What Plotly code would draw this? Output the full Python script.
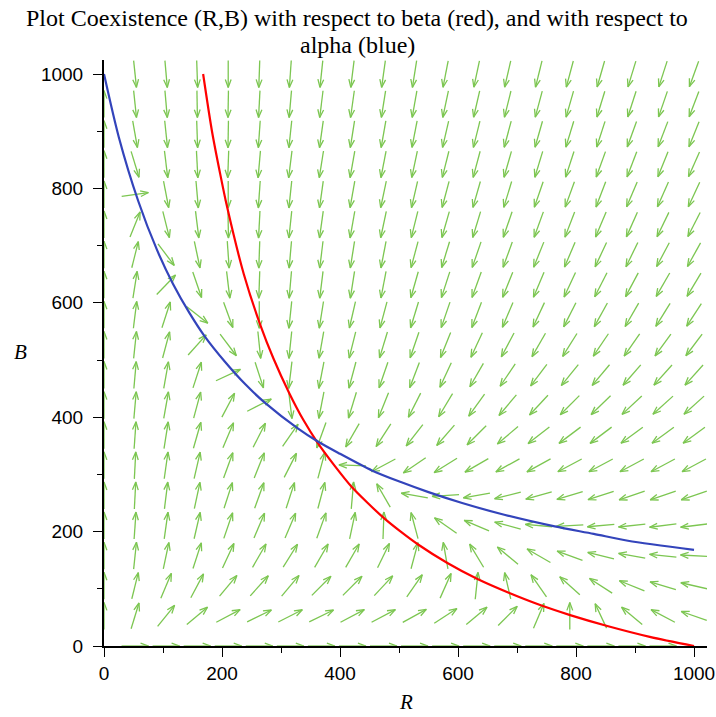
import numpy as np
import plotly.graph_objects as go

# ---------------- data ----------------
# red curve (coexistence w.r.t. beta)
red_R = [168, 183, 197, 209, 237, 265, 287, 314, 338, 361, 391, 420, 447, 474,
         504, 533, 582, 633, 686, 738, 790, 853, 925, 1000]
red_B = [1000, 900, 825, 766, 650, 561, 503, 442, 395, 357, 315, 278, 250, 224,
         199, 177, 145, 117, 93, 72, 54, 35, 16, 0]

# blue curve (coexistence w.r.t. alpha)
blue_R = [0, 25, 58, 90, 117, 145, 171, 205, 240, 273, 329, 363, 400, 454, 502,
          550, 607, 680, 764, 830, 888, 1000]
blue_B = [1000, 890, 778, 692, 633, 582, 541, 497, 457, 425, 380, 357, 336, 307,
          287, 269, 250, 229, 209, 196, 184, 168]

# direction field: 20 x 20 grid over [0,1000]^2, arrow directions in degrees
# (counter-clockwise from +R), rows from B=1000 (top) down to B=0; None = no arrow
field_n = 20
field_angles = [
    [None, 276, 275, 272, 270, 268, 266, 264, 263, 262, 261, 259, 258, 257, 256, 255, 254, 253, 252, 250],
    [90, 276, 275, 271, 269, 267, 265, 263, 262, 261, 260, 258, 257, 256, 255, 254, 253, 252, 251, 249],
    [90, 280, 276, 272, 269, 266, 264, 262, 261, 260, 259, 257, 256, 255, 254, 253, 252, 250, 249, 248],
    [90, 287, 277, 273, 268, 265, 263, 261, 260, 259, 258, 256, 255, 254, 253, 252, 250, 249, 248, 246],
    [90, 8, 281, 275, 270, 266, 264, 262, 260, 258, 257, 255, 254, 253, 251, 250, 249, 247, 246, 245],
    [90, 68, 284, 277, 271, 267, 264, 262, 260, 258, 256, 254, 253, 251, 250, 249, 247, 246, 244, 243],
    [90, 76, 307, 282, 274, 268, 265, 263, 261, 259, 255, 253, 251, 250, 248, 247, 245, 244, 242, 241],
    [90, 81, 46, 289, 277, 268, 265, 263, 261, 259, 254, 252, 250, 248, 247, 245, 243, 242, 240, 239],
    [90, 83, 72, 322, 290, 270, 264, 261, 257, 255, 253, 251, 249, 247, 245, 243, 241, 240, 238, 237],
    [90, 84, 75, 48, 307, 276, 264, 260, 256, 253, 251, 248, 245, 242, 240, 238, 236, 235, 234, 233],
    [90, 85, 80, 72, 25, 288, 263, 259, 255, 251, 249, 245, 240, 236, 233, 231, 230, 229, 228, 228],
    [90, 85, 80, 75, 62, 27, 277, 259, 253, 248, 243, 239, 234, 230, 227, 225, 224, 223, 222, 222],
    [90, 86, 81, 74, 67, 63, 55, 250, 240, 237, 232, 229, 225, 220, 218, 217, 217, 216, 216, 216],
    [90, 87, 82, 77, 70, 68, 63, 75, 178, 208, 214, 212, 210, 209, 209, 208, 208, 208, 208, 208],
    [90, 87, 83, 78, 72, 70, 72, 75, 85, 120, 170, 184, 190, 194, 196, 197, 198, 199, 199, 199],
    [90, 86, 82, 77, 71, 67, 67, 70, 78, 88, 105, 145, 157, 165, 175, 183, 185, 186, 187, 187],
    [90, 84, 78, 72, 65, 60, 58, 60, 60, 64, 75, 100, 121, 140, 150, 160, 166, 170, 174, 177],
    [90, 76, 67, 62, 50, 48, 50, 45, 45, 47, 55, 66, 84, 103, 125, 138, 147, 158, 163, 167],
    [90, 73, 51, 40, 28, 26, 27, 26, 28, 28, 29, 33, 40, 45, 67, 90, 115, 140, 152, 161],
    [None, 0, 0, 0, 0, 0, 0, 0, 0, 0, 0, 0, 0, 0, 0, 0, 0, 0, 0, None],
]

tick_vals = [0, 200, 400, 600, 800, 1000]
tick_text = ["0", "200", "400", "600", "800", "1000"]

title_line1 = "Plot Coexistence (R,B) with respect to beta (red), and with respect to"
title_line2 = "alpha (blue)"

# ---------------- layout geometry ----------------
FIG_W, FIG_H = 716, 717
M_L, M_R, M_T, M_B = 104, FIG_W - 707, 60, FIG_H - 646
X_MAX, Y_MAX = 1022, 1024.5
plot_w = FIG_W - M_L - M_R
plot_h = FIG_H - M_T - M_B
pxx = plot_w / X_MAX
pxy = plot_h / Y_MAX


def px_to_paper_x(px):
    return (px - M_L) / plot_w


def px_to_paper_y(py):
    return (FIG_H - M_B - py) / plot_h


ARROW_LEN = 27.0   # px
HEAD_LEN = 8.5     # px
HEAD_ANG = 20.0    # deg

grid = np.linspace(0, 1000, field_n)
ax, ay = [], []
for r, row in enumerate(field_angles):
    Bv = grid[field_n - 1 - r]
    for i, ang in enumerate(row):
        if ang is None:
            continue
        Rv = grid[i]
        a = np.radians(ang)
        dx, dy = np.cos(a) / pxx, np.sin(a) / pxy
        half = ARROW_LEN / 2
        tail = (Rv - half * dx, Bv - half * dy)
        tip = (Rv + half * dx, Bv + half * dy)
        ax += [tail[0], tip[0], None]
        ay += [tail[1], tip[1], None]
        b1 = a + np.pi - np.radians(HEAD_ANG)
        b2 = a + np.pi + np.radians(HEAD_ANG)
        ax += [tip[0] + HEAD_LEN * np.cos(b1) / pxx, tip[0],
               tip[0] + HEAD_LEN * np.cos(b2) / pxx, None]
        ay += [tip[1] + HEAD_LEN * np.sin(b1) / pxy, tip[1],
               tip[1] + HEAD_LEN * np.sin(b2) / pxy, None]

fig = go.Figure()
fig.add_trace(go.Scatter(x=ax, y=ay, mode="lines",
                         line=dict(color="#7cc651", width=1.3),
                         hoverinfo="skip", showlegend=False))
fig.add_trace(go.Scatter(x=red_R, y=red_B, mode="lines",
                         line=dict(color="#ff0000", width=2.2, shape="spline", smoothing=0.8),
                         showlegend=False))
fig.add_trace(go.Scatter(x=blue_R, y=blue_B, mode="lines",
                         line=dict(color="#3344bb", width=2.2, shape="spline", smoothing=0.8),
                         showlegend=False))

axis_common = dict(
    showline=True, linecolor="black", linewidth=2,
    ticks="outside", ticklen=9, tickwidth=1.3, tickcolor="black",
    showgrid=False, zeroline=False, automargin=False,
    tickvals=tick_vals, ticktext=tick_text, ticklabeloverflow="allow",
    tickfont=dict(family="Liberation Sans, Arial, sans-serif", size=19, color="black"),
    minor=dict(ticks="outside", ticklen=5, tickwidth=1.2, tickcolor="black",
               dtick=100, tick0=0, showgrid=False),
)

title_font = dict(family="Liberation Serif, Times New Roman, serif", size=24, color="black")

fig.update_layout(
    width=FIG_W, height=FIG_H,
    margin=dict(l=M_L, r=M_R, t=M_T, b=M_B, pad=0),
    paper_bgcolor="white", plot_bgcolor="white",
    xaxis=dict(range=[0, X_MAX], ticklabelstandoff=0, **axis_common),
    yaxis=dict(range=[0, Y_MAX], ticklabelstandoff=6, **axis_common),
    annotations=[
        dict(text=title_line1, xref="paper", yref="paper",
             x=px_to_paper_x(357), y=px_to_paper_y(18),
             xanchor="center", yanchor="middle", showarrow=False, font=title_font),
        dict(text=title_line2, xref="paper", yref="paper",
             x=px_to_paper_x(357), y=px_to_paper_y(45),
             xanchor="center", yanchor="middle", showarrow=False, font=title_font),
        dict(text="<i>R</i>", xref="paper", yref="paper",
             x=px_to_paper_x(406), y=px_to_paper_y(702),
             xanchor="center", yanchor="middle", showarrow=False,
             font=dict(family="Liberation Serif, serif", size=21, color="black")),
        dict(text="<i>B</i>", xref="paper", yref="paper",
             x=px_to_paper_x(20), y=px_to_paper_y(352),
             xanchor="center", yanchor="middle", showarrow=False,
             font=dict(family="Liberation Serif, serif", size=21, color="black")),
    ],
)

# remove the default 8px page margin so the figure sits at the window origin
fig.write_html(
    "out.html",
    config={"displayModeBar": False},
    post_script="document.body.style.margin='0';document.body.style.overflow='hidden';",
)
